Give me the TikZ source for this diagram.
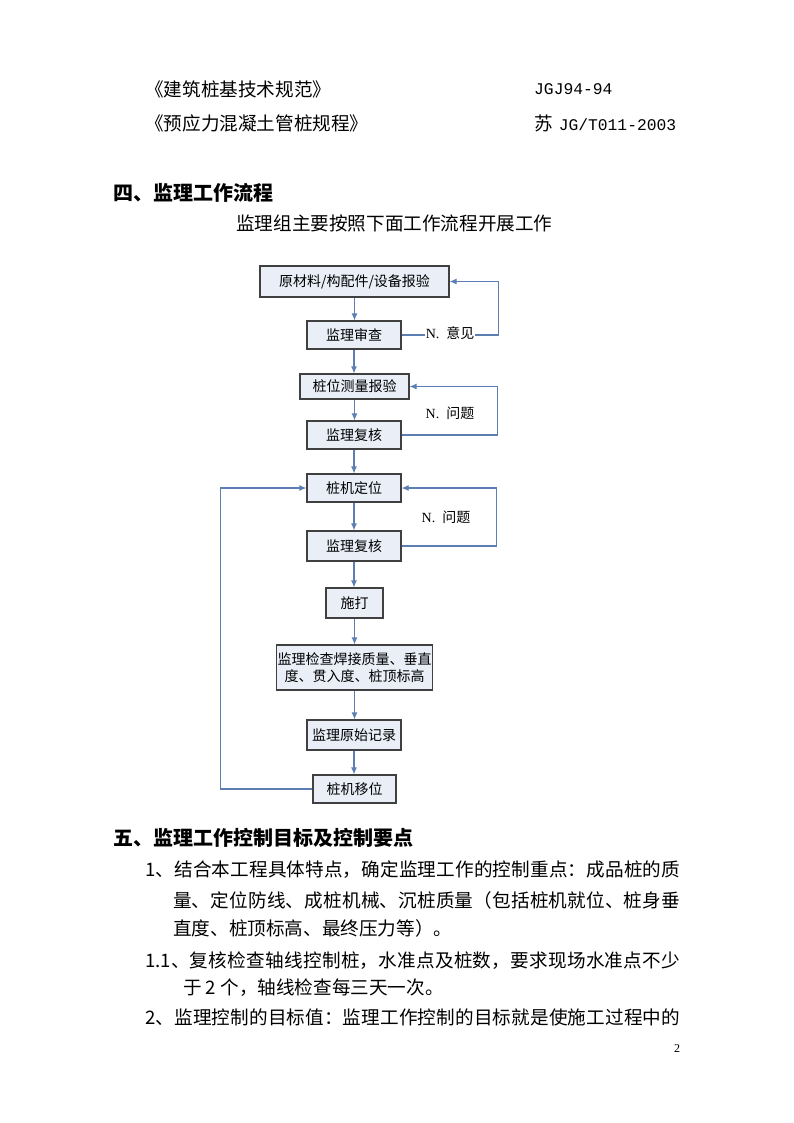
\documentclass[tikz,border=0pt]{standalone}
\usepackage{fontspec}
\setmainfont{Noto Sans CJK SC}
\newfontfamily\monofont{Liberation Mono}
\newfontfamily\romanfont{Liberation Serif}
\usetikzlibrary{arrows.meta}

\definecolor{flowline}{RGB}{92,126,178}
\definecolor{boxfill}{RGB}{233,238,247}
\definecolor{boxline}{RGB}{64,64,64}
\newcommand{\bodysize}{\fontsize{18.6}{22}\selectfont}
\newcommand{\headsize}{\fontsize{20}{24}\selectfont\bfseries}
\newcommand{\boxsize}{\fontsize{14}{17}\selectfont}
\newcommand{\codesize}{\monofont\fontsize{16.3}{20}\selectfont}
% one full line of text, spread to the given width
\newcommand{\fillline}[2]{\parbox{#1}{\XeTeXlinebreaklocale "zh"\XeTeXlinebreakskip=0pt plus 4pt minus 0.6pt\parfillskip=0pt\relax #2}}

\begin{document}
\begin{tikzpicture}[x=1pt,y=-1pt,
    txt/.style={anchor=west,inner sep=0pt,font=\bodysize},
    stage/.style={draw=boxline,line width=1.1pt,fill=boxfill,font=\boxsize,
      minimum height=28pt,inner sep=2pt},
    flow/.style={draw=flowline,line width=1.1pt,-{Latex[length=7pt,width=6pt]}},
    note/.style={font=\boxsize,inner sep=1pt}]
    \useasboundingbox[fill=white] (0,0) rectangle (794,1123);

    % standards
    \node[txt] (std1) at (145,89) {《建筑桩基技术规范》};
    \node[txt,font=\codesize] (code1) at (534,89) {JGJ94-94};
    \node[txt] (std2) at (145,123) {《预应力混凝土管桩规程》};
    \node[txt] (code2) at (534,123) {苏\hspace{6pt}{\codesize JG/T011-2003}};

    \node[txt,font=\headsize] (sec4) at (113,193) {四、监理工作流程};
    \node[txt] (intro) at (236,223) {监理组主要按照下面工作流程开展工作};

    % flow chart
    \node[stage,minimum width=189pt,minimum height=31pt] (report) at (354.5,281.5) {原材料/构配件/设备报验};
    \node[stage,minimum width=94pt] (review) at (354,335) {监理审查};
    \node[stage,minimum width=109pt,minimum height=25pt] (survey) at (354.5,386.5) {桩位测量报验};
    \node[stage,minimum width=94pt] (check1) at (354,435) {监理复核};
    \node[stage,minimum width=94pt] (locate) at (354,488) {桩机定位};
    \node[stage,minimum width=94pt,minimum height=30pt] (check2) at (354,546) {监理复核};
    \node[stage,minimum width=57pt,minimum height=30pt] (drive) at (354.5,603) {施打};
    \node[stage,minimum width=155pt,minimum height=45pt,align=center,inner sep=1pt] (inspect) at (354.5,667.5) {监理检查焊接质量、垂直\\度、贯入度、桩顶标高};
    \node[stage,minimum width=94pt,minimum height=30pt] (record) at (354,735) {监理原始记录};
    \node[stage,minimum width=83pt] (move) at (354.5,789) {桩机移位};

    \foreach \a/\b in {report/review,review/survey,survey/check1,check1/locate,
      locate/check2,check2/drive,drive/inspect,inspect/record,record/move}
      \draw[flow] (\a.south) -- (\a.south |- \b.north);

    % loops back
    \draw[flow] (review.east) -- node[note,fill=white,yshift=2pt] (opinion) {{\romanfont N.}\hspace{7pt}意见} ++(97,0) |- (report.east);
    \draw[flow] (check1.east) -- ++(96,0) |- (survey.east);
    \node[note] (issue1) at (450,413) {{\romanfont N.}\hspace{7pt}问题};
    \draw[flow] (check2.east) -- ++(95,0) |- (locate.east);
    \node[note] (issue2) at (446,517) {{\romanfont N.}\hspace{7pt}问题};
    \draw[flow] (move.west) -- ++(-92,0) |- (locate.west);

    \node[txt,font=\headsize] (sec5) at (113,838) {五、监理工作控制目标及控制要点};
    \node[txt] (p1) at (145,870) {\fillline{535pt}{1、结合本工程具体特点，确定监理工作的控制重点：成品桩的质}};
    \node[txt] (p2) at (173,900) {\fillline{507pt}{量、定位防线、成桩机械、沉桩质量（包括桩机就位、桩身垂}};
    \node[txt] (p3) at (173,928) {直度、桩顶标高、最终压力等）。};
    \node[txt] (p4) at (145,961) {\fillline{535pt}{1.1、复核检查轴线控制桩，水准点及桩数，要求现场水准点不少}};
    \node[txt] (p5) at (183,988) {于 2 个，轴线检查每三天一次。};
    \node[txt] (p6) at (145,1017) {\fillline{535pt}{2、监理控制的目标值：监理工作控制的目标就是使施工过程中的}};
    \node[inner sep=0pt,font=\romanfont\fontsize{12}{14}\selectfont] (pageno) at (677,1049) {2};
\end{tikzpicture}
\end{document}
